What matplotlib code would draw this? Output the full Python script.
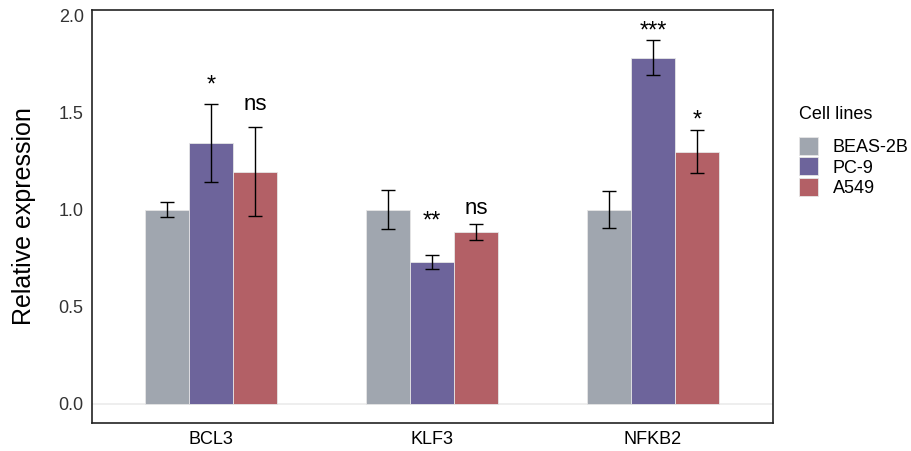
import numpy as np
import matplotlib.pyplot as plt

plt.rcParams['font.family'] = ['Liberation Sans', 'DejaVu Sans']

genes = ["BCL3", "KLF3", "NFKB2"]
cell_lines = ["BEAS-2B", "PC-9", "A549"]
colors = ["#A0A6AF", "#6D649B", "#B36066"]

# mean relative expression per cell line (order follows genes)
beas2b = [1.00, 1.00, 1.00]
pc9 = [1.345, 0.73, 1.785]
a549 = [1.195, 0.885, 1.30]

beas2b_err = [0.04, 0.10, 0.095]
pc9_err = [0.20, 0.035, 0.09]
a549_err = [0.23, 0.04, 0.11]

# significance vs BEAS-2B, and the height where each label sits
pc9_sig = ["*", "**", "***"]
a549_sig = ["ns", "ns", "*"]
pc9_sig_y = [1.68, 0.98, 1.96]
a549_sig_y = [1.545, 1.01, 1.50]

means = [beas2b, pc9, a549]
errs = [beas2b_err, pc9_err, a549_err]
sigs = [None, (pc9_sig, pc9_sig_y), (a549_sig, a549_sig_y)]

fig = plt.figure(figsize=(9.12, 4.51), dpi=100)
ax = fig.add_axes([92 / 912, 28 / 451, 681 / 912, 413 / 451])

x = np.arange(1, len(genes) + 1)
w = 0.2
ax.axhline(0, color="#EBEBEB", lw=1.2, zorder=0)
for i, (m, e, c, lab) in enumerate(zip(means, errs, colors, cell_lines)):
    pos = x + (i - 1) * w
    ax.bar(pos, m, width=w, color=c, edgecolor="#E6E6E6", linewidth=0.6,
           label=lab, zorder=2)
    ax.errorbar(pos, m, yerr=e, fmt="none", ecolor="black", elinewidth=1,
                capsize=5, capthick=1, zorder=3)
    if sigs[i] is not None:
        for p, s, sy in zip(pos, *sigs[i]):
            # place the visual centre of the glyphs at sy
            fs = 17 if s != "ns" else 16
            shift = 0.58 * fs if s != "ns" else 0.27 * fs
            ax.annotate(s, (p, sy), xytext=(0, -shift), textcoords="offset points",
                        ha="center", va="baseline", fontsize=fs, color="black")

ax.set_xlim(0.462, 3.543)
ax.set_ylim(-0.10, 2.03)
ax.set_xticks(x)
ax.set_xticklabels(genes, fontsize=13)
ax.set_yticks([0, 0.5, 1.0, 1.5, 2.0])
ax.set_yticklabels(["0.0", "0.5", "1.0", "1.5", "2.0"], fontsize=13, color="#333333")
ax.tick_params(length=0, pad=6)
ax.set_ylabel("Relative expression", fontsize=18, labelpad=16)
for sp in ax.spines.values():
    sp.set_color("#222222")
    sp.set_linewidth(1.2)

leg = ax.legend(title="Cell lines", loc="upper left", bbox_to_anchor=(1.028, 0.785),
                frameon=False, fontsize=13, title_fontsize=13,
                handlelength=1.05, handleheight=1.15, handletextpad=0.8,
                labelspacing=0.08, borderaxespad=0)
leg._legend_box.align = "left"
leg._legend_box.sep = 10

fig.savefig("out.png", dpi=100)
